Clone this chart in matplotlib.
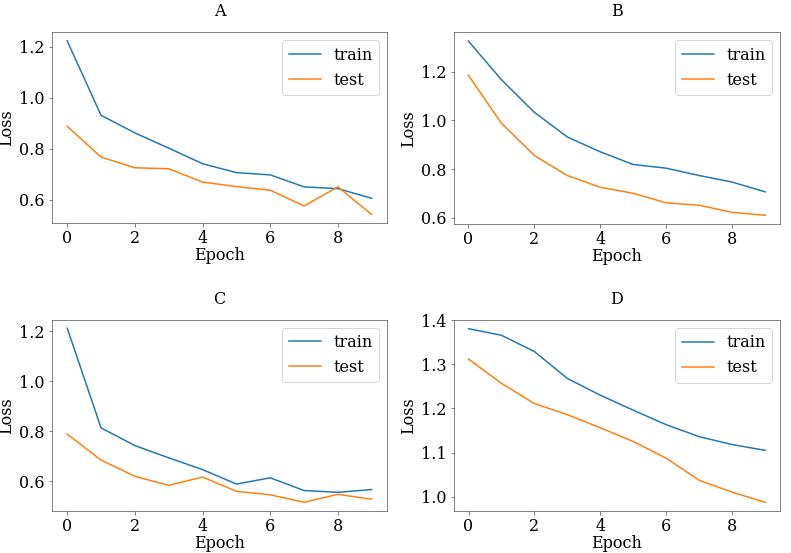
import matplotlib
matplotlib.use("Agg")
import matplotlib.pyplot as plt

plt.rcParams['font.family'] = ['DejaVu Serif']
plt.rcParams['font.size'] = 16

epochs = list(range(10))
titles = ["A", "B", "C", "D"]
train_A = [1.223, 0.931, 0.862, 0.802, 0.741, 0.706, 0.697, 0.650, 0.643, 0.605]
test_A = [0.888, 0.767, 0.725, 0.721, 0.669, 0.651, 0.637, 0.575, 0.650, 0.541]
train_B = [1.325, 1.167, 1.033, 0.932, 0.871, 0.819, 0.804, 0.774, 0.747, 0.707]
test_B = [1.185, 0.989, 0.856, 0.774, 0.726, 0.701, 0.662, 0.652, 0.623, 0.611]
train_C = [1.213, 0.814, 0.743, 0.694, 0.647, 0.589, 0.614, 0.563, 0.556, 0.567]
test_C = [0.789, 0.685, 0.620, 0.584, 0.617, 0.560, 0.546, 0.516, 0.548, 0.528]
train_D = [1.381, 1.366, 1.329, 1.268, 1.230, 1.196, 1.163, 1.136, 1.118, 1.105]
test_D = [1.312, 1.257, 1.211, 1.186, 1.156, 1.125, 1.087, 1.037, 1.010, 0.987]

trains = [train_A, train_B, train_C, train_D]
tests = [test_A, test_B, test_C, test_D]

DPI = 72
W, H = 791, 553
fig = plt.figure(figsize=(W / DPI, H / DPI), dpi=DPI)

# pixel boxes: left, top, right, bottom
boxes = [(52, 32.3, 387, 223.3), (453.5, 32.3, 780, 224),
         (52, 319.5, 387, 511), (453.7, 320, 780, 511)]

spine_col = '#666666'
for i, (l, t, r, b) in enumerate(boxes):
    ax = fig.add_axes([l / W, 1 - b / H, (r - l) / W, (b - t) / H])
    ax.plot(epochs, trains[i], color='tab:blue', label='train')
    ax.plot(epochs, tests[i], color='tab:orange', label='test')
    ax.set_title(titles[i], pad=16, fontsize=16)
    ax.set_xlabel('Epoch', labelpad=0)
    ax.set_ylabel('Loss')
    ax.set_xticks([0, 2, 4, 6, 8])
    ax.legend(loc='upper right')
    for s in ax.spines.values():
        s.set_color(spine_col)
    ax.tick_params(color=spine_col)

fig.savefig('out.png', dpi=DPI)
